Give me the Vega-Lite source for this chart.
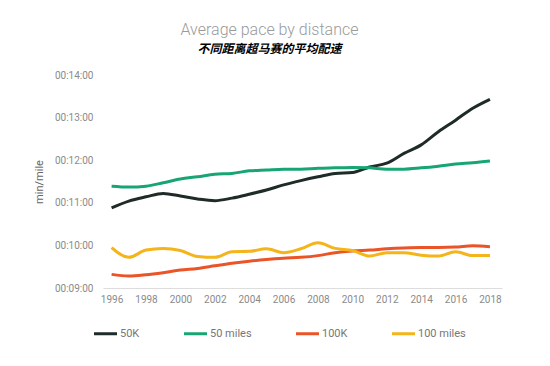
{
  "$schema": "https://vega.github.io/schema/vega-lite/v6.json",
  "autosize": {"type": "none"},
  "padding": {"left": 103, "top": 75, "right": 48, "bottom": 78},
  "width": 399,
  "height": 213,
  "background": "white",
  "title": {
    "text": "Average pace by distance",
    "subtitle": "不同距离超马赛的平均配速",
    "anchor": "middle",
    "dx": -33,
    "offset": 15,
    "font": "Roboto",
    "fontSize": 16,
    "fontWeight": 300,
    "color": "#9a9a9a",
    "subtitleFont": "Noto Sans CJK SC",
    "subtitleFontSize": 12,
    "subtitleFontWeight": "bold",
    "subtitleFontStyle": "italic",
    "subtitleColor": "#000000",
    "subtitlePadding": 6
  },
  "config": {"view": {"stroke": null}},
  "data": {
    "values": [
      {"year": 1996, "series": "50K", "pace": 10.88},
      {"year": 1997, "series": "50K", "pace": 11.04},
      {"year": 1998, "series": "50K", "pace": 11.14},
      {"year": 1999, "series": "50K", "pace": 11.22},
      {"year": 2000, "series": "50K", "pace": 11.16},
      {"year": 2001, "series": "50K", "pace": 11.09},
      {"year": 2002, "series": "50K", "pace": 11.05},
      {"year": 2003, "series": "50K", "pace": 11.11},
      {"year": 2004, "series": "50K", "pace": 11.2},
      {"year": 2005, "series": "50K", "pace": 11.3},
      {"year": 2006, "series": "50K", "pace": 11.42},
      {"year": 2007, "series": "50K", "pace": 11.52},
      {"year": 2008, "series": "50K", "pace": 11.61},
      {"year": 2009, "series": "50K", "pace": 11.69},
      {"year": 2010, "series": "50K", "pace": 11.71},
      {"year": 2011, "series": "50K", "pace": 11.84},
      {"year": 2012, "series": "50K", "pace": 11.93},
      {"year": 2013, "series": "50K", "pace": 12.16},
      {"year": 2014, "series": "50K", "pace": 12.36},
      {"year": 2015, "series": "50K", "pace": 12.67},
      {"year": 2016, "series": "50K", "pace": 12.94},
      {"year": 2017, "series": "50K", "pace": 13.22},
      {"year": 2018, "series": "50K", "pace": 13.43},
      {"year": 1996, "series": "50 miles", "pace": 11.39},
      {"year": 1997, "series": "50 miles", "pace": 11.37},
      {"year": 1998, "series": "50 miles", "pace": 11.39},
      {"year": 1999, "series": "50 miles", "pace": 11.47},
      {"year": 2000, "series": "50 miles", "pace": 11.56},
      {"year": 2001, "series": "50 miles", "pace": 11.61},
      {"year": 2002, "series": "50 miles", "pace": 11.67},
      {"year": 2003, "series": "50 miles", "pace": 11.69},
      {"year": 2004, "series": "50 miles", "pace": 11.75},
      {"year": 2005, "series": "50 miles", "pace": 11.77},
      {"year": 2006, "series": "50 miles", "pace": 11.79},
      {"year": 2007, "series": "50 miles", "pace": 11.79},
      {"year": 2008, "series": "50 miles", "pace": 11.81},
      {"year": 2009, "series": "50 miles", "pace": 11.82},
      {"year": 2010, "series": "50 miles", "pace": 11.83},
      {"year": 2011, "series": "50 miles", "pace": 11.82},
      {"year": 2012, "series": "50 miles", "pace": 11.79},
      {"year": 2013, "series": "50 miles", "pace": 11.79},
      {"year": 2014, "series": "50 miles", "pace": 11.82},
      {"year": 2015, "series": "50 miles", "pace": 11.86},
      {"year": 2016, "series": "50 miles", "pace": 11.91},
      {"year": 2017, "series": "50 miles", "pace": 11.94},
      {"year": 2018, "series": "50 miles", "pace": 11.98},
      {"year": 1996, "series": "100K", "pace": 9.32},
      {"year": 1997, "series": "100K", "pace": 9.28},
      {"year": 1998, "series": "100K", "pace": 9.31},
      {"year": 1999, "series": "100K", "pace": 9.36},
      {"year": 2000, "series": "100K", "pace": 9.42},
      {"year": 2001, "series": "100K", "pace": 9.46},
      {"year": 2002, "series": "100K", "pace": 9.52},
      {"year": 2003, "series": "100K", "pace": 9.58},
      {"year": 2004, "series": "100K", "pace": 9.63},
      {"year": 2005, "series": "100K", "pace": 9.67},
      {"year": 2006, "series": "100K", "pace": 9.7},
      {"year": 2007, "series": "100K", "pace": 9.72},
      {"year": 2008, "series": "100K", "pace": 9.76},
      {"year": 2009, "series": "100K", "pace": 9.83},
      {"year": 2010, "series": "100K", "pace": 9.87},
      {"year": 2011, "series": "100K", "pace": 9.89},
      {"year": 2012, "series": "100K", "pace": 9.92},
      {"year": 2013, "series": "100K", "pace": 9.94},
      {"year": 2014, "series": "100K", "pace": 9.95},
      {"year": 2015, "series": "100K", "pace": 9.95},
      {"year": 2016, "series": "100K", "pace": 9.96},
      {"year": 2017, "series": "100K", "pace": 9.99},
      {"year": 2018, "series": "100K", "pace": 9.97},
      {"year": 1996, "series": "100 miles", "pace": 9.95},
      {"year": 1997, "series": "100 miles", "pace": 9.72},
      {"year": 1998, "series": "100 miles", "pace": 9.89},
      {"year": 1999, "series": "100 miles", "pace": 9.93},
      {"year": 2000, "series": "100 miles", "pace": 9.88},
      {"year": 2001, "series": "100 miles", "pace": 9.74},
      {"year": 2002, "series": "100 miles", "pace": 9.72},
      {"year": 2003, "series": "100 miles", "pace": 9.85},
      {"year": 2004, "series": "100 miles", "pace": 9.86},
      {"year": 2005, "series": "100 miles", "pace": 9.92},
      {"year": 2006, "series": "100 miles", "pace": 9.83},
      {"year": 2007, "series": "100 miles", "pace": 9.92},
      {"year": 2008, "series": "100 miles", "pace": 10.06},
      {"year": 2009, "series": "100 miles", "pace": 9.93},
      {"year": 2010, "series": "100 miles", "pace": 9.88},
      {"year": 2011, "series": "100 miles", "pace": 9.75},
      {"year": 2012, "series": "100 miles", "pace": 9.83},
      {"year": 2013, "series": "100 miles", "pace": 9.83},
      {"year": 2014, "series": "100 miles", "pace": 9.77},
      {"year": 2015, "series": "100 miles", "pace": 9.75},
      {"year": 2016, "series": "100 miles", "pace": 9.85},
      {"year": 2017, "series": "100 miles", "pace": 9.76},
      {"year": 2018, "series": "100 miles", "pace": 9.76}
    ]
  },
  "mark": {"type": "line", "strokeWidth": 3, "interpolate": "monotone"},
  "encoding": {
    "x": {
      "field": "year",
      "type": "quantitative",
      "scale": {"domain": [1995.5, 2018.7], "nice": false, "zero": false},
      "axis": {
        "title": null,
        "values": [1996, 1998, 2000, 2002, 2004, 2006, 2008, 2010, 2012, 2014, 2016, 2018],
        "format": "d",
        "grid": false,
        "ticks": false,
        "domainColor": "#dddddd",
        "domainWidth": 1,
        "labelFont": "Roboto",
        "labelFontSize": 10,
        "labelColor": "#8a8a8a",
        "labelPadding": 6
      }
    },
    "y": {
      "field": "pace",
      "type": "quantitative",
      "scale": {"domain": [9, 14], "nice": false, "zero": false},
      "axis": {
        "title": "min/mile",
        "titleFont": "Roboto",
        "titleFontSize": 11,
        "titleFontWeight": "normal",
        "titleColor": "#666666",
        "titlePadding": 10,
        "values": [9, 10, 11, 12, 13, 14],
        "labelExpr": "'00:' + (datum.value < 10 ? '0' : '') + datum.value + ':00'",
        "grid": false,
        "ticks": false,
        "domain": false,
        "labelFont": "Roboto",
        "labelFontSize": 10,
        "labelColor": "#8a8a8a",
        "labelPadding": 10
      }
    },
    "color": {
      "field": "series",
      "type": "nominal",
      "scale": {
        "domain": ["50K", "50 miles", "100K", "100 miles"],
        "range": ["#1e2b28", "#17a673", "#ea5426", "#f4b41a"]
      },
      "legend": {
        "title": null,
        "orient": "none",
        "legendX": -11,
        "legendY": 245,
        "direction": "horizontal",
        "symbolType": "stroke",
        "symbolSize": 530,
        "symbolStrokeWidth": 3,
        "columnPadding": 37,
        "labelOffset": 1,
        "labelFont": "Roboto",
        "labelFontSize": 11,
        "labelColor": "#777777"
      }
    }
  }
}
